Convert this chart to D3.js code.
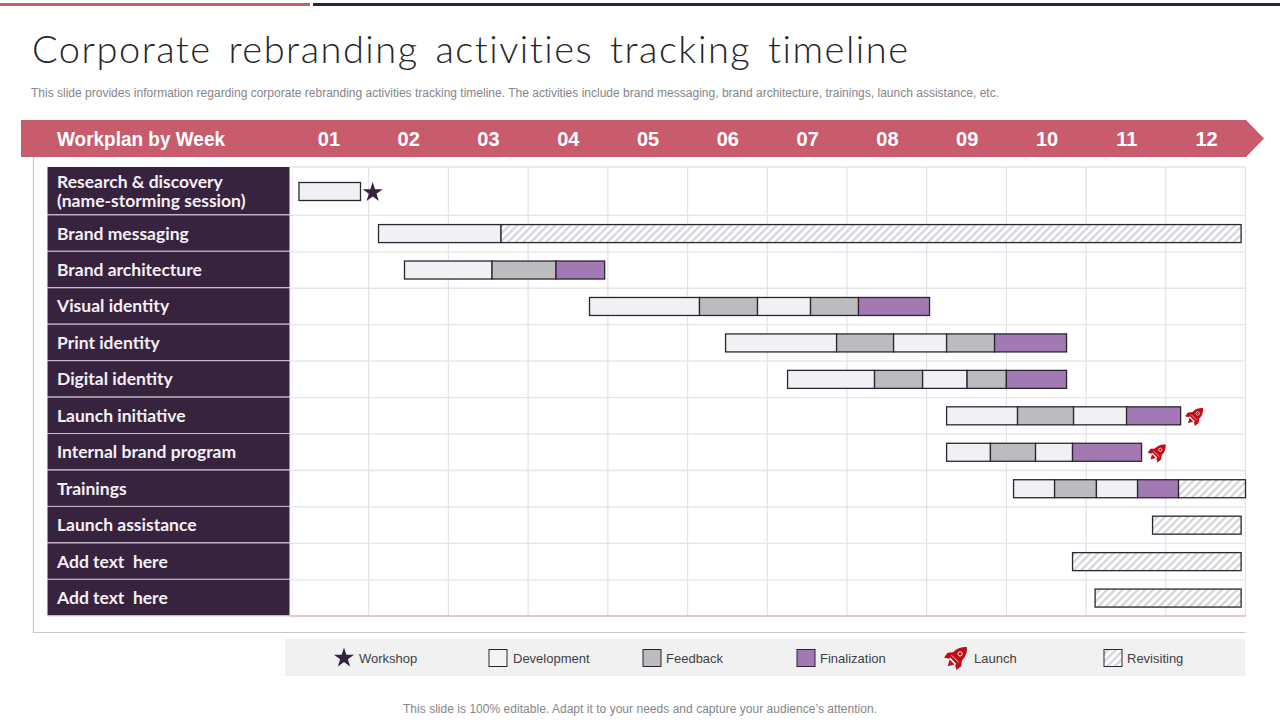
<!DOCTYPE html>
<html><head><meta charset="utf-8">
<script src="https://cdn.jsdelivr.net/npm/d3@7"></script>
<style>
html,body{margin:0;padding:0;background:#fff}
svg{display:block}
text{font-family:"Liberation Sans",Arial,sans-serif}
.lab{font-family:"Lato","Open Sans",sans-serif;font-weight:700;font-size:17.5px;fill:#f4f0f5}
</style></head><body>
<svg id="c" width="1280" height="720"></svg>
<script>
const titleText = "Corporate rebranding activities tracking timeline";
const subtitleText = "This slide provides information regarding corporate rebranding activities tracking timeline. The activities include brand messaging, brand architecture, trainings, launch assistance, etc.";
const footerText = "This slide is 100% editable. Adapt it to your needs and capture your audience\u2019s attention.";
const headerLabel = "Workplan by Week";
const weeks = ["01","02","03","04","05","06","07","08","09","10","11","12"];
const rowNames = ["Research & discovery\n(name-storming session)","Brand messaging","Brand architecture","Visual identity","Print identity","Digital identity","Launch initiative","Internal brand program","Trainings","Launch assistance","Add text  here","Add text  here"];
// segment boundaries, in weeks from the start of week 01
const rowStarts = [0.125,1.123,1.449,3.77,5.477,6.255,8.25,8.25,9.09,10.834,9.83,10.113];
const rowBreaks = [
  [0.897],
  [2.66,11.945],
  [2.547,3.35,3.96],
  [5.15,5.878,6.543,7.145,8.036],
  [6.87,7.585,8.25,8.852,9.755],
  [7.346,7.949,8.507,9.0,9.755],
  [9.14,9.843,10.508,11.186],
  [8.80,9.366,9.83,10.696],
  [9.605,10.13,10.646,11.16,12],
  [11.945],
  [11.945],
  [11.945]
];
const rowKinds = [
  ["Development"],
  ["Development","Revisiting"],
  ["Development","Feedback","Finalization"],
  ["Development","Feedback","Development","Feedback","Finalization"],
  ["Development","Feedback","Development","Feedback","Finalization"],
  ["Development","Feedback","Development","Feedback","Finalization"],
  ["Development","Feedback","Development","Finalization"],
  ["Development","Feedback","Development","Finalization"],
  ["Development","Feedback","Development","Finalization","Revisiting"],
  ["Revisiting"],
  ["Revisiting"],
  ["Revisiting"]
];
const markerRows = [0,6,7];
const markerKinds = ["Workshop","Launch","Launch"];
const markerWeeks = [1.05,11.37,10.9];
const legendNames = ["Workshop","Development","Feedback","Finalization","Launch","Revisiting"];

const pink="#c95c6c", dark="#38233f", ink="#2a2533";
const kindColor = d3.scaleOrdinal(["Development","Feedback","Finalization"],["#f1f1f3","#bcbcbe","#a279b2"]);
const svg=d3.select("#c");
const defs=svg.append("defs");
const pat=defs.append("pattern").attr("id","hatch").attr("width",5.4).attr("height",5.4)
  .attr("patternUnits","userSpaceOnUse").attr("patternTransform","rotate(45)");
pat.append("rect").attr("width",5.4).attr("height",5.4).attr("fill","#fff");
pat.append("rect").attr("width",2.4).attr("height",5.4).attr("fill","#d6d7d9");
const fill=k=>k==="Revisiting"?"url(#hatch)":kindColor(k);

// top rules
svg.append("rect").attr("x",0).attr("y",3).attr("width",310).attr("height",3).attr("fill",pink);
svg.append("rect").attr("x",313).attr("y",3).attr("width",967).attr("height",3).attr("fill","#2f2440");

// title
svg.append("text").attr("x",32).attr("y",63).attr("textLength",876).attr("lengthAdjust","spacing")
  .style("font-family","Lato,'Open Sans',sans-serif").style("font-weight",300).style("font-size","38px")
  .style("font-variant-ligatures","none").style("word-spacing","5px").attr("fill","#26262a").text(titleText);
svg.append("text").attr("x",31).attr("y",97).attr("textLength",968).attr("lengthAdjust","spacing")
  .style("font-size","12px").attr("fill","#85858a").text(subtitleText);

// scales
const x=d3.scaleLinear().domain([0,12]).range([289,1245.5]);
const wk=d3.scaleBand().domain(weeks).range([289,1246.5]);
const yB=d3.scaleBand().domain(d3.range(rowNames.length)).range([178.9,616.3]);
const rowTop=i=>i===0?167:yB(i);
const rowBot=i=>yB(i)+yB.bandwidth();
const rowMid=i=>i===0?191.5:yB(i)+yB.bandwidth()/2;

// outer frame
svg.append("path").attr("d","M33.5,157V632.5H1245.5").attr("fill","none").attr("stroke","#c8c8c8").attr("stroke-width",1.2);

// header arrow
svg.append("path").attr("d","M21,120H1246L1264,138.5L1246,157H21Z").attr("fill",pink);
svg.append("text").attr("x",57).attr("y",146).attr("textLength",168).attr("lengthAdjust","spacingAndGlyphs")
  .style("font-size","20px").style("font-weight",700).attr("fill","#fff").text(headerLabel);
const ax=svg.append("g").attr("transform","translate(0,146)").call(d3.axisTop(wk).tickSize(0).tickPadding(0));
ax.select(".domain").remove();
ax.selectAll("text").style("font-size","20px").style("font-weight",700).style("font-family","'Liberation Sans',Arial,sans-serif").attr("fill","#fff");

// grid
const grid=svg.append("g");
grid.selectAll("line.h").data(d3.range(rowNames.length)).join("line").attr("class","h")
  .attr("x1",289.5).attr("x2",1245.5).attr("y1",rowTop).attr("y2",rowTop).attr("stroke","#e6e4e5").attr("stroke-width",1.3);
grid.selectAll("line.v").data(d3.range(1,13)).join("line").attr("class","v")
  .attr("x1",x).attr("x2",x).attr("y1",167).attr("y2",616).attr("stroke","#e2e2e8").attr("stroke-width",1.2);
svg.append("line").attr("x1",289.5).attr("x2",1246).attr("y1",616).attr("y2",616).attr("stroke","#dfb5bd").attr("stroke-width",1.6);

// row labels
const lab=svg.append("g").selectAll("g").data(rowNames).join("g");
lab.append("rect").attr("x",47.5).attr("width",242).attr("y",(d,i)=>rowTop(i)).attr("height",(d,i)=>rowBot(i)-rowTop(i)-1)
  .attr("fill",dark);
lab.append("line").attr("x1",47.5).attr("x2",289.5).attr("y1",(d,i)=>rowBot(i)-.5).attr("y2",(d,i)=>rowBot(i)-.5).attr("stroke","#c5b6c9").attr("stroke-width",1);
lab.each(function(d,i){
  const parts=d.split("\n"), g=d3.select(this), mid=i===0?191:(rowTop(i)+rowBot(i))/2;
  parts.forEach((p,j)=>g.append("text").attr("class","lab").attr("x",57)
    .attr("y",mid+6+(j-(parts.length-1)/2)*19).style("white-space","pre").text(p));
});

// bars
const barH=18;
const bars=svg.append("g");
rowNames.forEach((n,i)=>{
  const edges=[rowStarts[i],...rowBreaks[i]];
  bars.selectAll("rect.s"+i).data(rowKinds[i]).join("rect").attr("class","s"+i)
    .attr("x",(k,j)=>x(edges[j])).attr("width",(k,j)=>x(edges[j+1])-x(edges[j]))
    .attr("y",rowMid(i)-barH/2).attr("height",barH).attr("fill",fill).attr("stroke",ink).attr("stroke-width",1.3);
});

// glyphs
function star(sel,cx,cy,size){
  sel.append("path").attr("d",d3.symbol(d3.symbolStar,size)()).attr("transform",`translate(${cx},${cy+1})`).attr("fill",dark);
}
function rocket(sel,cx,cy,size){
  const g=sel.append("g").attr("transform",`translate(${cx},${cy}) rotate(45) scale(${size/24})`);
  g.append("path").attr("fill","#c00d15").attr("d","M0,-16C7,-10 8,-3 6,6L-6,6C-8,-3 -7,-10 0,-16Z");
  g.append("path").attr("fill","#c00d15").attr("d","M-5,-3L-11,4L-10,11L-5,8Z M5,-3L11,4L10,11L5,8Z");
  g.append("path").attr("fill","#c00d15").attr("d","M-4,8L4,8L0,15Z");
  g.append("circle").attr("cy",-5).attr("r",2.4).attr("fill","none").attr("stroke","#fff").attr("stroke-width",1);
  g.append("path").attr("stroke","#fff").attr("stroke-width",.8).attr("d","M-6,3H6");
}
const marks=svg.append("g");
markerRows.forEach((r,i)=>{
  if(markerKinds[i]==="Workshop") star(marks,x(markerWeeks[i]),rowMid(r),125);
  else rocket(marks,x(markerWeeks[i]),rowMid(r),16.5);
});

// legend
svg.append("rect").attr("x",285).attr("y",639).attr("width",960).attr("height",37).attr("fill","#f1f1f2");
const legGlyphX=d3.scaleOrdinal(legendNames,[344,498,652,806,957,1113]);
const legTextX=d3.scaleOrdinal(legendNames,[359,513,666,820,974,1127]);
const leg=svg.append("g");
legendNames.forEach(n=>{
  const gx=legGlyphX(n);
  if(n==="Workshop") star(leg,gx,657,125);
  else if(n==="Launch") rocket(leg,gx,657,21);
  else leg.append("rect").attr("x",gx-9).attr("y",649.5).attr("width",18).attr("height",17).attr("fill",n==="Development"?"#f4f4f5":fill(n)).attr("stroke",ink).attr("stroke-width",1);
  leg.append("text").attr("x",legTextX(n)).attr("y",663).style("font-size","13px").attr("fill","#3f3f46").text(n);
});

// footer
svg.append("text").attr("x",403).attr("y",713).attr("textLength",474).attr("lengthAdjust","spacing").style("font-size","12px").attr("fill","#85858a").text(footerText);
</script></body></html>
